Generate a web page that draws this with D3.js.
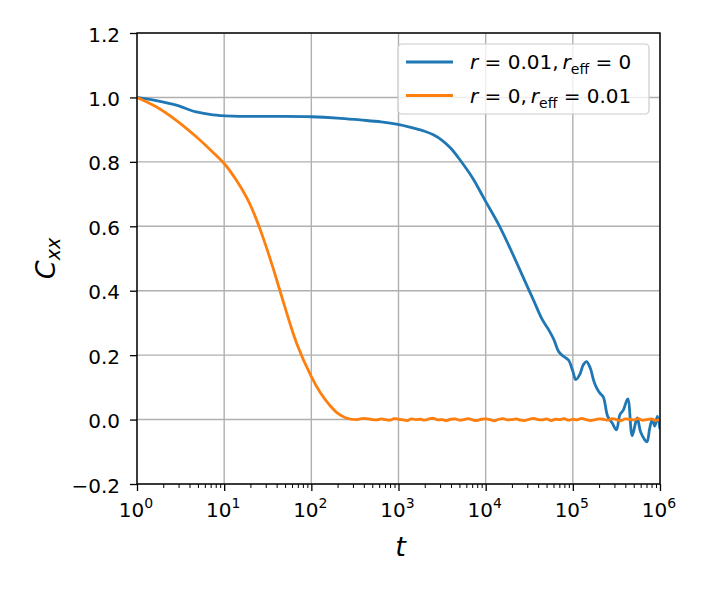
<!DOCTYPE html>
<html>
<head>
<meta charset="utf-8">
<script src="https://cdn.jsdelivr.net/npm/d3@7"></script>
<style>
  body { margin: 0; background: #fff; }
  svg { font-family: "DejaVu Sans", sans-serif; }
</style>
</head>
<body>
<svg id="chart" width="705" height="593"></svg>
<script>
// log10(t) samples and C_xx values
const blueLogT = [0, 0.22, 0.45, 0.68, 0.87, 1.1, 1.3, 1.6, 2.0, 2.3, 2.56, 2.8, 3.02, 3.2, 3.3, 3.4, 3.5, 3.6, 3.7, 3.85, 3.99, 4.16, 4.3, 4.45, 4.55, 4.65, 4.72, 4.78, 4.84, 4.9, 4.95, 5.0, 5.034, 5.08, 5.12, 5.157, 5.2, 5.24, 5.27, 5.31, 5.35, 5.4, 5.45, 5.5, 5.54, 5.58, 5.63, 5.68, 5.72, 5.74, 5.78, 5.85, 5.88, 5.91, 5.94, 5.97, 6.0]
const blueC = [1.0, 0.99, 0.976, 0.955, 0.946, 0.942, 0.941, 0.941, 0.94, 0.936, 0.93, 0.924, 0.915, 0.903, 0.895, 0.884, 0.867, 0.842, 0.808, 0.75, 0.682, 0.6, 0.52, 0.43, 0.37, 0.31, 0.28, 0.25, 0.21, 0.195, 0.185, 0.15, 0.124, 0.14, 0.17, 0.18, 0.16, 0.12, 0.1, 0.082, 0.07, 0.01, -0.01, -0.032, 0.015, 0.03, 0.064, -0.05, -0.01, 0.005, -0.04, -0.069, -0.03, 0.0, -0.02, 0.01, -0.03]

const orangeLogT = [0, 0.22, 0.45, 0.68, 0.87, 1.0, 1.135, 1.29, 1.42, 1.55, 1.64, 1.83, 2.0, 2.1, 2.21, 2.3, 2.4, 2.52, 2.6, 2.68,
  2.75, 2.8, 2.85, 2.9, 2.95, 3.0, 3.05, 3.1, 3.15, 3.2, 3.25, 3.3, 3.35, 3.4, 3.45, 3.5, 3.55, 3.6, 3.65, 3.7, 3.75, 3.8, 3.85, 3.9, 3.95,
  4.0, 4.05, 4.1, 4.15, 4.2, 4.25, 4.3, 4.35, 4.4, 4.45, 4.5, 4.55, 4.6, 4.65, 4.7, 4.75, 4.8, 4.85, 4.9, 4.95,
  5.0, 5.05, 5.1, 5.15, 5.2, 5.25, 5.3, 5.35, 5.4, 5.45, 5.5, 5.55, 5.6, 5.65, 5.7, 5.75, 5.8, 5.85, 5.9, 5.95, 6.0]
const orangeC = [1.0, 0.971, 0.929, 0.878, 0.83, 0.795, 0.745, 0.672, 0.585, 0.48, 0.4, 0.238, 0.133, 0.085, 0.045, 0.02, 0.005, 0.0, 0.004, 0.001,
  -0.001, 0.002, 0.0, -0.002, 0.003, 0.001, -0.001, -0.003, 0.002, 0.0, 0.001, -0.002, 0.002, 0.004, -0.001, 0.0, -0.003, 0.001, 0.002, -0.002, 0.0, 0.003, -0.001,
  -0.003, 0.001, 0.002, 0.0, -0.004, 0.001, 0.003, -0.001, 0.0, 0.002, -0.002, -0.003, 0.001, 0.004, 0.0, -0.001, 0.002, -0.003, 0.001, 0.0,
  0.003, -0.002, 0.001, -0.001, 0.004, 0.0, -0.003, -0.001, 0.002, 0.001, -0.002, 0.003, 0.0, -0.004, 0.002, 0.001, -0.001, 0.003, -0.002, 0.0, 0.002, -0.003, 0.001]

const xDecades = [0, 1, 2, 3, 4, 5, 6]
const yTicks = [-0.2, 0.0, 0.2, 0.4, 0.6, 0.8, 1.0, 1.2]

const seriesList = [
  { logT: blueLogT, c: blueC, color: '#1f77b4', label: ['0.01', '0'] },
  { logT: orangeLogT, c: orangeC, color: '#ff7f0e', label: ['0', '0.01'] },
]

const svg = d3.select('#chart')
const margin = { left: 137, top: 33, right: 45, bottom: 109 }
const width = 705 - margin.left - margin.right
const height = 593 - margin.top - margin.bottom

const x = d3.scaleLog().domain([1, 1e6]).range([0, width])
const y = d3.scaleLinear().domain([-0.2, 1.2]).range([height, 0])

const g = svg.append('g').attr('transform', `translate(${margin.left},${margin.top})`)

const isDecade = (d) => Math.abs(Math.log10(d) - Math.round(Math.log10(d))) < 1e-6

// grid
g.selectAll('.vgrid').data(xDecades).enter().append('line')
  .attr('x1', (d) => x(10 ** d)).attr('x2', (d) => x(10 ** d))
  .attr('y1', 0).attr('y2', height)
  .attr('stroke', '#b0b0b0').attr('stroke-width', 1.4)
g.selectAll('.hgrid').data(yTicks).enter().append('line')
  .attr('y1', (d) => y(d)).attr('y2', (d) => y(d))
  .attr('x1', 0).attr('x2', width)
  .attr('stroke', '#b0b0b0').attr('stroke-width', 1.4)

// lines
svg.append('defs').append('clipPath').attr('id', 'clip')
  .append('rect').attr('width', width).attr('height', height)

const line = d3.line()
  .x((d) => x(10 ** d[0]))
  .y((d) => y(d[1]))
  .curve(d3.curveCatmullRom.alpha(0.5))

seriesList.forEach((s) => {
  g.append('path')
    .datum(s.logT.map((lt, i) => [lt, s.c[i]]))
    .attr('clip-path', 'url(#clip)')
    .attr('d', line)
    .attr('fill', 'none')
    .attr('stroke', s.color)
    .attr('stroke-width', 2.8)
    .attr('stroke-linejoin', 'round')
})

// axes
const xAxis = d3.axisBottom(x)
  .tickValues(d3.range(0, 6).flatMap((p) => d3.range(1, 10).map((m) => m * 10 ** p)).concat([1e6]))
  .tickFormat('')
  .tickSizeOuter(0)
const xg = g.append('g').attr('transform', `translate(0,${height})`).call(xAxis)
xg.select('.domain').remove()
xg.selectAll('.tick line')
  .attr('y2', (d) => (isDecade(d) ? 7 : 4))
  .attr('stroke', '#000').attr('stroke-width', (d) => (isDecade(d) ? 1.3 : 1.0))

xDecades.forEach((p) => {
  const t = g.append('text')
    .attr('x', x(10 ** p) - 1)
    .attr('y', height + 33)
    .attr('text-anchor', 'middle')
    .attr('font-size', 20)
  t.append('tspan').text('10')
  t.append('tspan').attr('dy', -9).attr('font-size', 14).text(p)
})

const yAxis = d3.axisLeft(y).tickValues(yTicks).tickSize(7).tickSizeOuter(0)
  .tickFormat((d) => d3.format('.1f')(d).replace('-', '\u2212'))
const yg = g.append('g').call(yAxis)
yg.select('.domain').remove()
yg.selectAll('.tick line').attr('stroke', '#000').attr('stroke-width', 1.3)
yg.selectAll('.tick text').attr('font-size', 20).attr('x', -17).attr('dy', '0.4em').attr('fill', '#000')
  .attr('font-family', '"DejaVu Sans", sans-serif')

// frame
g.append('rect').attr('width', width).attr('height', height)
  .attr('fill', 'none').attr('stroke', '#000').attr('stroke-width', 1.4)

// axis labels
svg.append('text')
  .attr('x', margin.left + width / 2 + 2).attr('y', 556)
  .attr('text-anchor', 'middle').attr('font-size', 27).attr('font-style', 'italic')
  .text('t')

const yl = svg.append('text')
  .attr('transform', `translate(55,${margin.top + height / 2}) rotate(-90)`)
  .attr('text-anchor', 'middle').attr('font-size', 27).attr('font-style', 'italic')
yl.append('tspan').text('C')
yl.append('tspan').attr('font-size', 19).attr('dy', 5).text('xx')

// legend
const lg = g.append('g').attr('transform', 'translate(261,11)')
lg.append('rect').attr('width', 251).attr('height', 70).attr('rx', 4)
  .attr('fill', 'rgba(255,255,255,0.8)').attr('stroke', '#cccccc').attr('stroke-width', 1.2)
seriesList.forEach((s, i) => {
  const yy = 18 + i * 33.5
  lg.append('line').attr('x1', 8).attr('x2', 55).attr('y1', yy).attr('y2', yy)
    .attr('stroke', s.color).attr('stroke-width', 2.8)
  const t = lg.append('text').attr('x', 72).attr('y', yy + 7).attr('font-size', 20)
  t.append('tspan').attr('font-style', 'italic').text('r')
  t.append('tspan').text(` = ${s.label[0]},\u2009`)
  t.append('tspan').attr('font-style', 'italic').text('r')
  t.append('tspan').attr('font-size', 14).attr('dy', 5).text('eff')
  t.append('tspan').attr('dy', -5).text(` = ${s.label[1]}`)
})
</script>
</body>
</html>
